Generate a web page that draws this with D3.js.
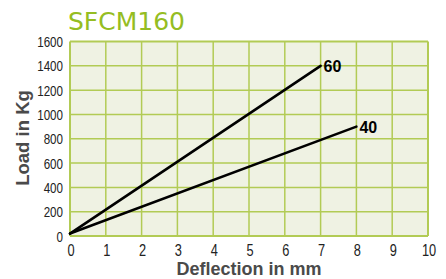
<!DOCTYPE html>
<html>
<head>
<meta charset="utf-8">
<script src="https://cdn.jsdelivr.net/npm/d3@7"></script>
<style>
  body { margin: 0; background: #fff; }
  svg text { font-family: "Liberation Sans", Arial, sans-serif; }
</style>
</head>
<body>
<svg id="chart" width="446" height="279"></svg>
<script>
// chart values
const xTicks = [0, 1, 2, 3, 4, 5, 6, 7, 8, 9, 10]
const yTicks = [0, 200, 400, 600, 800, 1000, 1200, 1400, 1600]
const seriesNames = ["60", "40"]
const series60 = [[0, 20], [7, 1400]]
const series40 = [[0, 20], [8, 900]]

const green = "#b2cb55"
const margin = {left: 70, right: 18, top: 41.5, bottom: 43}
const width = 446, height = 279

const svg = d3.select('#chart')

const x = d3.scaleLinear().domain([0, 10]).range([margin.left, width - margin.right])
const y = d3.scaleLinear().domain([0, 1600]).range([height - margin.bottom, margin.top])

// plot background
svg.append("rect")
    .attr("x", x(0)).attr("y", y(1600))
    .attr("width", x(10) - x(0)).attr("height", y(0) - y(1600))
    .attr("fill", "#eff2e3")

// grid
svg.append("g").selectAll("line")
    .data(xTicks)
    .enter().append("line")
    .attr("x1", d => x(d)).attr("x2", d => x(d))
    .attr("y1", y(0)).attr("y2", y(1600))
    .attr("stroke", green).attr("stroke-width", d => (d == 0 || d == 10) ? 2 : 1.5)
svg.append("g").selectAll("line")
    .data(yTicks)
    .enter().append("line")
    .attr("x1", x(0)).attr("x2", x(10))
    .attr("y1", d => y(d)).attr("y2", d => y(d))
    .attr("stroke", green).attr("stroke-width", d => (d == 0 || d == 1600) ? 2 : 1.5)

// tick labels (condensed look via horizontal squeeze)
svg.append("g").selectAll("text")
    .data(yTicks)
    .enter().append("text")
    .attr("transform", d => `translate(${x(0) - 7},${y(d) + 5.5}) scale(0.8,1)`)
    .attr("text-anchor", "end")
    .attr("font-size", 14.5)
    .attr("fill", "#222")
    .text(d => d)
svg.append("g").selectAll("text")
    .data(xTicks)
    .enter().append("text")
    .attr("transform", d => `translate(${x(d) + 1},${y(0) + 20}) scale(0.8,1)`)
    .attr("text-anchor", "middle")
    .attr("font-size", 16)
    .attr("fill", "#222")
    .text(d => d)

// lines
const line = d3.line()
    .x(d => x(d[0]))
    .y(d => y(d[1]))

const allSeries = [series60, series40]
svg.selectAll('.series')
    .data(allSeries)
    .enter().append("path")
    .attr("class", "series")
    .attr("fill", "none")
    .attr("stroke", "#000")
    .attr("stroke-width", 2.6)
    .attr("stroke-linecap", "round")
    .attr("d", line)

svg.selectAll('.slabel')
    .data(allSeries)
    .enter().append("text")
    .attr("class", "slabel")
    .attr("x", d => x(d[d.length - 1][0]) + 3)
    .attr("y", d => y(d[d.length - 1][1]) + 6)
    .attr("font-size", 16)
    .attr("font-weight", "bold")
    .attr("fill", "#000")
    .text((d, i) => seriesNames[i])

// titles
svg.append("text")
    .attr("x", 68).attr("y", 30)
    .attr("font-size", 25)
    .style("font-family", "'DejaVu Sans', sans-serif")
    .attr("fill", "#95bd22")
    .text("SFCM160")

svg.append("text")
    .attr("x", (x(0) + x(10)) / 2)
    .attr("y", 275)
    .attr("text-anchor", "middle")
    .attr("font-size", 18)
    .attr("font-weight", "bold")
    .attr("fill", "#4a4a4a")
    .text("Deflection in mm")

svg.append("text")
    .attr("transform", "translate(29,138) rotate(-90)")
    .attr("text-anchor", "middle")
    .attr("font-size", 18.5)
    .attr("font-weight", "bold")
    .attr("fill", "#4a4a4a")
    .text("Load in Kg")
</script>
</body>
</html>
